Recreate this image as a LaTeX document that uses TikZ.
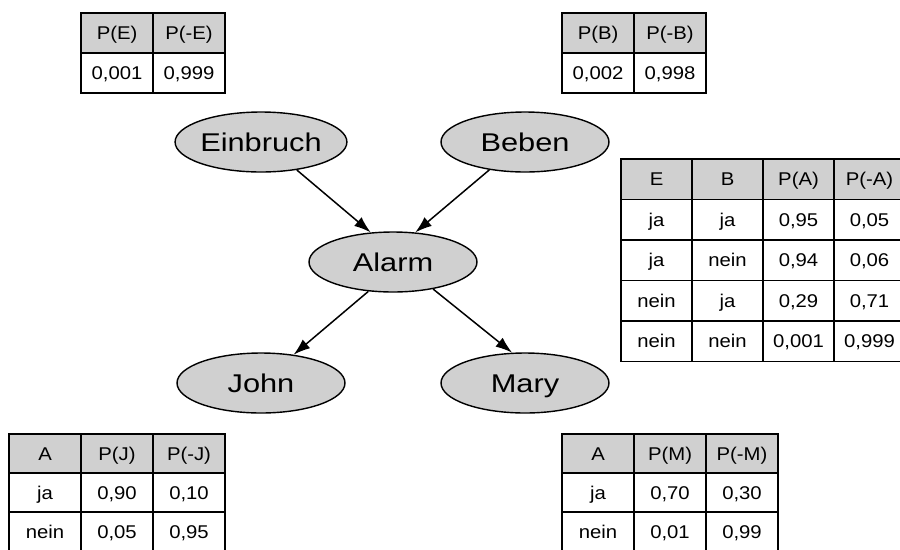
\documentclass[tikz,border=0pt]{standalone}
\usepackage{fontspec}
\newfontfamily\diagfont[FakeStretch=1.2]{Liberation Sans}
\newfontfamily\cellfamily[FakeStretch=1.1]{Liberation Sans}
\usetikzlibrary{shapes.geometric,matrix,arrows.meta}
\definecolor{nodegray}{RGB}{208,208,208}
\tikzset{
    event/.style={ellipse, draw, fill=nodegray, line width=0.8pt, minimum width=3.36cm, minimum height=1.2cm, inner sep=0pt, text height=10.5pt, text depth=0pt, font=\diagfont\fontsize{14.6}{17}\selectfont},
    cell/.style={draw, line width=0.8pt, minimum width=1.44cm, minimum height=0.8cm, inner sep=0pt, text height=7.5pt, text depth=0pt, font=\cellfamily\fontsize{10.5}{12.5}\selectfont},
    cpt/.style={matrix of nodes, anchor=north west, inner sep=0pt, column sep=-0.8pt, row sep=-0.8pt, nodes={cell}, row 1/.style={nodes={fill=nodegray}}},
    dep/.style={line width=0.85pt, -{Latex[length=9.5pt,width=6.5pt]}}
}
\begin{document}
\begin{tikzpicture}[x=0.02cm, y=-0.02cm]
    \clip (0,0) rectangle (900,549);
    \node[event] at (261,142) (ein) {Einbruch};
    \node[event] at (525,142) (beb) {Beben};
    \node[event] at (393,262) (alarm) {Alarm};
    \node[event] at (261,383) (john) {John};
    \node[event] at (525,383) (mary) {Mary};
    \draw[dep] (ein.-38) -- (alarm.127);
    \draw[dep] (beb.-142) -- (alarm.53);
    \draw[dep] (alarm.-130) -- (john.41);
    \draw[dep] (alarm.-34) -- (mary.113);
    % tables
    \matrix[cpt] at (80,12) (tabE) {
        P(E) & P(-E) \\
        0,001 & 0,999 \\
    };
    \matrix[cpt] at (561,12) (tabB) {
        P(B) & P(-B) \\
        0,002 & 0,998 \\
    };
    \matrix[cpt, nodes={minimum width=1.42cm, minimum height=0.81cm}] at (620,158) (tabA) {
        E & B & P(A) & P(-A) \\
        ja & ja & 0,95 & 0,05 \\
        ja & nein & 0,94 & 0,06 \\
        nein & ja & 0,29 & 0,71 \\
        nein & nein & 0,001 & 0,999 \\
    };
    \matrix[cpt, nodes={minimum height=0.78cm}] at (8,433) (tabJ) {
        A & P(J) & P(-J) \\
        ja & 0,90 & 0,10 \\
        nein & 0,05 & 0,95 \\
    };
    \matrix[cpt, nodes={minimum height=0.78cm}] at (561,433) (tabM) {
        A & P(M) & P(-M) \\
        ja & 0,70 & 0,30 \\
        nein & 0,01 & 0,99 \\
    };
\end{tikzpicture}
\end{document}
